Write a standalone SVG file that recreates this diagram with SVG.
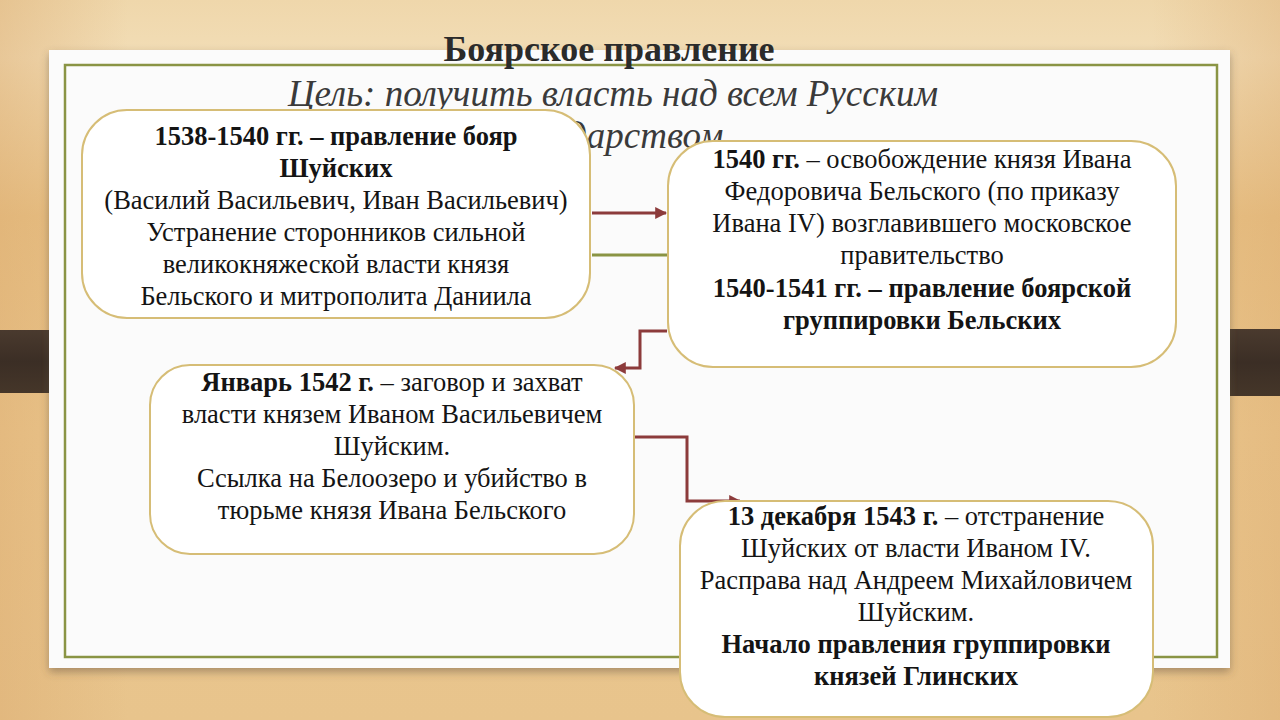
<svg xmlns="http://www.w3.org/2000/svg" width="1280" height="720" viewBox="0 0 1280 720">
<defs>
<linearGradient id="wood" x1="0" y1="0" x2="0" y2="1">
<stop offset="0" stop-color="#efd7ab"/>
<stop offset="0.08" stop-color="#f2ddb6"/>
<stop offset="0.3" stop-color="#e8c185"/>
<stop offset="0.6" stop-color="#ebc78e"/>
<stop offset="1" stop-color="#e8c48c"/>
</linearGradient>
<linearGradient id="woodh" x1="0" y1="0" x2="1" y2="0">
<stop offset="0" stop-color="#d9a66a" stop-opacity="0.4"/>
<stop offset="0.1" stop-color="#d9a66a" stop-opacity="0"/>
<stop offset="0.9" stop-color="#d9a66a" stop-opacity="0"/>
<stop offset="1" stop-color="#d9a66a" stop-opacity="0.35"/>
</linearGradient>
<linearGradient id="strip" x1="0" y1="0" x2="0" y2="1">
<stop offset="0" stop-color="#4a3a2e"/>
<stop offset="0.5" stop-color="#3b2e25"/>
<stop offset="1" stop-color="#453629"/>
</linearGradient>
<filter id="shadow" x="-5%" y="-5%" width="110%" height="115%">
<feDropShadow dx="0" dy="4" stdDeviation="4" flood-color="#5a4a3a" flood-opacity="0.45"/>
</filter>
<marker id="arrow" viewBox="0 0 10 10" refX="9" refY="5" markerWidth="4" markerHeight="4" orient="auto" markerUnits="strokeWidth">
<path d="M0,0 L10,5 L0,10 z" fill="#8c3b3b"/>
</marker>
<style>
.box{fill:#ffffff;stroke:#d6bd76;stroke-width:2}
.t{font-family:"Liberation Serif","Times New Roman",serif;font-size:26.5px;fill:#141414;text-anchor:middle}
.b{font-weight:bold}
.conn{fill:none;stroke:#8c3b3b;stroke-width:3}
.sub{font-family:"Liberation Serif","Times New Roman",serif;font-size:37px;font-style:italic;fill:#3a3a3a;text-anchor:middle}
</style>
</defs>

<g id="background">
<rect x="0" y="0" width="1280" height="720" fill="url(#wood)"/>
<rect x="0" y="0" width="1280" height="720" fill="url(#woodh)"/>
<rect x="0" y="330" width="80" height="63" fill="url(#strip)"/>
<rect x="1200" y="329" width="80" height="67" fill="url(#strip)"/>
<rect x="49" y="50" width="1181" height="618" fill="#fbfbfb" filter="url(#shadow)"/>
<rect x="65" y="65" width="1152" height="592" fill="none" stroke="#8a9444" stroke-width="2.5"/>
</g>

<g id="title">
<text x="609" y="61" style="font-family:'Liberation Serif','Times New Roman',serif;font-size:36px;font-weight:bold;fill:#2b2b2b;text-anchor:middle">Боярское правление</text>
<text x="613" y="106" class="sub">Цель: получить власть над всем Русским</text>
<text x="613" y="148" class="sub">государством</text>
</g>

<g id="connectors">
<line x1="592" y1="213" x2="666" y2="213" class="conn" marker-end="url(#arrow)"/>
<line x1="592" y1="255" x2="668" y2="255" stroke="#8a9444" stroke-width="3"/>
<polyline points="667,331 640,331 640,368 615,368" class="conn" marker-end="url(#arrow)"/>
<polyline points="635,437 687,437 687,501 740,501" class="conn" marker-end="url(#arrow)"/>
</g>

<g id="node1">
<rect x="82" y="110" width="508" height="208" rx="45" class="box"/>
<text class="t"><tspan x="336" y="145" class="b">1538-1540 гг. – правление бояр</tspan><tspan x="336" y="177" class="b">Шуйских</tspan><tspan x="336" y="209">(Василий Васильевич, Иван Васильевич)</tspan><tspan x="336" y="241">Устранение сторонников сильной</tspan><tspan x="336" y="273">великокняжеской власти князя</tspan><tspan x="336" y="305">Бельского и митрополита Даниила</tspan></text>
</g>

<g id="node2">
<rect x="668" y="141" width="508" height="226" rx="45" class="box"/>
<text class="t" x="922" y="168"><tspan class="b">1540 гг.</tspan> – освобождение князя Ивана</text>
<text class="t"><tspan x="922" y="200">Федоровича Бельского (по приказу</tspan><tspan x="922" y="232">Ивана IV) возглавившего московское</tspan><tspan x="922" y="264">правительство</tspan><tspan x="922" y="297" class="b">1540-1541 гг. – правление боярской</tspan><tspan x="922" y="329" class="b">группировки Бельских</tspan></text>
</g>

<g id="node3">
<rect x="150" y="365" width="484" height="189" rx="40" class="box"/>
<text class="t" x="392" y="391"><tspan class="b">Январь 1542 г.</tspan> – заговор и захват</text>
<text class="t"><tspan x="392" y="423">власти князем Иваном Васильевичем</tspan><tspan x="392" y="455">Шуйским.</tspan><tspan x="392" y="487">Ссылка на Белоозеро и убийство в</tspan><tspan x="392" y="519">тюрьме князя Ивана Бельского</tspan></text>
</g>

<g id="node4">
<rect x="680" y="501" width="473" height="216" rx="45" class="box"/>
<text class="t" x="916" y="525"><tspan class="b">13 декабря 1543 г.</tspan> – отстранение</text>
<text class="t"><tspan x="916" y="557">Шуйских от власти Иваном IV.</tspan><tspan x="916" y="589">Расправа над Андреем Михайловичем</tspan><tspan x="916" y="621">Шуйским.</tspan><tspan x="916" y="653" class="b">Начало правления группировки</tspan><tspan x="916" y="685" class="b">князей Глинских</tspan></text>
</g>
</svg>
